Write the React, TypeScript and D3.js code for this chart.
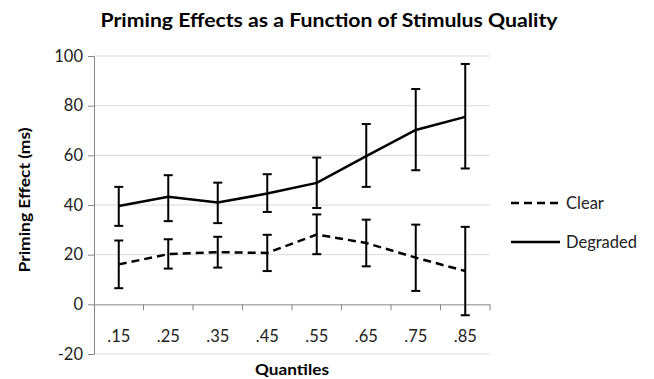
import React, { useEffect, useRef } from 'react'
import * as d3 from 'd3'

const quantiles = ['.15', '.25', '.35', '.45', '.55', '.65', '.75', '.85']
const clearMean = [16.1, 20.2, 21.0, 20.7, 28.1, 24.7, 18.8, 13.4]
const clearHigh = [25.7, 26.2, 27.2, 28.0, 36.2, 34.1, 32.1, 31.2]
const clearLow = [6.5, 14.4, 14.8, 13.4, 20.2, 15.3, 5.4, -4.4]
const degradedMean = [39.6, 43.3, 41.0, 44.6, 48.9, 59.7, 70.2, 75.5]
const degradedHigh = [47.3, 52.0, 49.0, 52.4, 59.1, 72.6, 86.7, 96.8]
const degradedLow = [31.6, 33.5, 32.7, 37.2, 38.8, 47.3, 54.0, 54.7]
const yTicks = [-20, 0, 20, 40, 60, 80, 100]

const series = [
    { name: 'Clear', mean: clearMean, high: clearHigh, low: clearLow, dash: '8,5' },
    { name: 'Degraded', mean: degradedMean, high: degradedHigh, low: degradedLow, dash: null },
]

const FONT = 'Lato, "Open Sans", sans-serif'

export default function App() {
    const svgRef = useRef<SVGSVGElement>(null)
    const width = 654
    const height = 379

    useEffect(() => {
        if (!svgRef.current) return
        const svg = d3.select(svgRef.current)
        svg.selectAll('*').remove()

        const x = d3.scaleBand().domain(quantiles).range([94, 490])
        const y = d3.scaleLinear().domain([-20, 100]).range([354, 56])
        const cx = (q: string) => (x(q) || 0) + x.bandwidth() / 2

        // gridlines
        svg.append('g')
            .selectAll('line')
            .data(yTicks.filter(t => t !== 0))
            .enter().append('line')
            .attr('x1', 94).attr('x2', 490)
            .attr('y1', d => y(d)).attr('y2', d => y(d))
            .attr('stroke', '#d9d9d9').attr('stroke-width', 1)

        // Y axis
        const yAxis = svg.append('g')
            .attr('transform', 'translate(94,0)')
            .call(d3.axisLeft(y).tickValues(yTicks).tickSize(6).tickPadding(5).tickFormat(d => String(d)))
        yAxis.selectAll('path, line').attr('stroke', '#868686')
        yAxis.selectAll('text')
            .attr('font-family', FONT).attr('font-size', 16.5).attr('fill', '#222')

        // X axis at zero
        const xAxis = svg.append('g')
            .attr('transform', `translate(0,${y(0)})`)
            .call(d3.axisBottom(x).tickSize(0).tickPadding(0))
        xAxis.select('path').attr('stroke', '#868686').attr('d', 'M94.5,0.5H490')
        xAxis.selectAll('text')
            .attr('font-family', FONT).attr('font-size', 16.5).attr('fill', '#222')
            .attr('dy', null).attr('y', 38)
        svg.append('g')
            .selectAll('line')
            .data(quantiles)
            .enter().append('line')
            .attr('x1', d => (x(d) || 0) + x.bandwidth()).attr('x2', d => (x(d) || 0) + x.bandwidth())
            .attr('y1', y(0)).attr('y2', y(0) + 6)
            .attr('stroke', '#868686')

        const line = d3.line<number>()
            .x((_, i) => cx(quantiles[i]))
            .y(d => y(d))

        series.forEach(s => {
            const g = svg.append('g')
            g.append('path')
                .datum(s.mean)
                .attr('d', line)
                .attr('fill', 'none')
                .attr('stroke', '#000')
                .attr('stroke-width', 2.5)
                .attr('stroke-dasharray', s.dash)

            const bars = g.selectAll('.err')
                .data(quantiles)
                .enter().append('g')
            bars.append('line')
                .attr('x1', d => cx(d)).attr('x2', d => cx(d))
                .attr('y1', (_, i) => y(s.high[i])).attr('y2', (_, i) => y(s.low[i]))
                .attr('stroke', '#000').attr('stroke-width', 2)
            bars.append('line')
                .attr('x1', d => cx(d) - 4.5).attr('x2', d => cx(d) + 4.5)
                .attr('y1', (_, i) => y(s.high[i])).attr('y2', (_, i) => y(s.high[i]))
                .attr('stroke', '#000').attr('stroke-width', 2)
            bars.append('line')
                .attr('x1', d => cx(d) - 4.5).attr('x2', d => cx(d) + 4.5)
                .attr('y1', (_, i) => y(s.low[i])).attr('y2', (_, i) => y(s.low[i]))
                .attr('stroke', '#000').attr('stroke-width', 2)
        })

        // Legend
        const legend = svg.append('g')
        series.forEach((s, i) => {
            const ly = 203 + i * 39
            legend.append('line')
                .attr('x1', 511).attr('x2', 560)
                .attr('y1', ly).attr('y2', ly)
                .attr('stroke', '#000').attr('stroke-width', 2.5)
                .attr('stroke-dasharray', s.dash)
            legend.append('text')
                .attr('x', 566).attr('y', ly)
                .attr('dominant-baseline', 'central')
                .attr('font-family', FONT).attr('font-size', 16.5).attr('fill', '#222')
                .text(s.name)
        })

        // Title and axis labels
        svg.append('text')
            .attr('x', 329).attr('y', 27)
            .attr('text-anchor', 'middle')
            .attr('font-family', FONT).attr('font-weight', 'bold').attr('font-size', 19)
            .attr('textLength', 457).attr('lengthAdjust', 'spacingAndGlyphs')
            .text('Priming Effects as a Function of Stimulus Quality')

        svg.append('text')
            .attr('transform', 'translate(30,200) rotate(-90)')
            .attr('text-anchor', 'middle')
            .attr('font-family', FONT).attr('font-weight', 'bold').attr('font-size', 16)
            .attr('textLength', 145).attr('lengthAdjust', 'spacingAndGlyphs')
            .text('Priming Effect (ms)')

        svg.append('text')
            .attr('x', 292).attr('y', 375)
            .attr('text-anchor', 'middle')
            .attr('font-family', FONT).attr('font-weight', 'bold').attr('font-size', 16)
            .attr('textLength', 74).attr('lengthAdjust', 'spacingAndGlyphs')
            .text('Quantiles')
    }, [])

    return (
        <div style={{ position: 'absolute', left: 0, top: 0 }}>
            <svg ref={svgRef} width={width} height={height} style={{ display: 'block', background: '#fff' }} />
        </div>
    )
}
